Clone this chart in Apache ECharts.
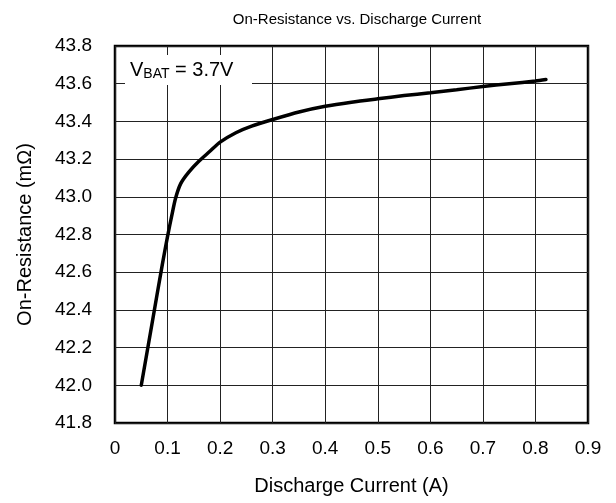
<!DOCTYPE html>
<html>
<head>
<meta charset="utf-8">
<script src="https://cdn.jsdelivr.net/npm/echarts@6/dist/echarts.min.js"></script>
<style>html,body{margin:0;padding:0;background:#fff}#c{width:616px;height:503px}</style>
</head>
<body>
<div id="c"></div>
<script>
var currentA = [0.05, 0.07, 0.09, 0.1, 0.108, 0.115, 0.125, 0.14, 0.16, 0.18, 0.2, 0.23, 0.26, 0.3, 0.35, 0.4, 0.45, 0.5, 0.55, 0.6, 0.65, 0.7, 0.75, 0.8, 0.82];
var resistance = [42.0, 42.32, 42.64, 42.79, 42.9, 42.99, 43.07, 43.13, 43.19, 43.24, 43.29, 43.34, 43.375, 43.41, 43.45, 43.48, 43.502, 43.52, 43.537, 43.552, 43.568, 43.585, 43.6, 43.614, 43.622];
var title = 'On-Resistance vs. Discharge Current';
var xName = 'Discharge Current (A)';
var yName = 'On-Resistance (mΩ)';

var chart = echarts.init(document.getElementById('c'));
var font = 'Liberation Sans, Arial, sans-serif';
chart.setOption({
  animation: false,
  backgroundColor: '#fff',
  title: {
    text: title, left: 352, top: 7, textAlign: 'center',
    textStyle: {fontFamily: font, fontSize: 15, fontWeight: 'normal', color: '#000'}
  },
  grid: {left: 115, right: 28, top: 46, bottom: 80, show: true, borderColor: '#000', borderWidth: 2.5},
  xAxis: {
    type: 'value', min: 0, max: 0.9, interval: 0.1,
    name: xName, nameLocation: 'middle', nameGap: 53,
    nameTextStyle: {fontFamily: font, fontSize: 20, color: '#000'},
    axisLine: {show: false}, axisTick: {show: false},
    axisLabel: {fontFamily: font, fontSize: 19, color: '#000', margin: 16,
      formatter: function (v) { return v === 0 ? '0' : v.toFixed(1); }},
    splitLine: {show: true, lineStyle: {color: '#222', width: 1}}
  },
  yAxis: {
    type: 'value', min: 41.8, max: 43.8, interval: 0.2,
    name: yName, nameLocation: 'middle', nameGap: 80, nameRotate: 90,
    nameTextStyle: {fontFamily: font, fontSize: 20, color: '#000'},
    axisLine: {show: false}, axisTick: {show: false},
    axisLabel: {fontFamily: font, fontSize: 19, color: '#000', margin: 23,
      formatter: function (v) { return v.toFixed(1); }},
    splitLine: {show: true, lineStyle: {color: '#222', width: 1}}
  },
  series: [{
    type: 'line',
    data: currentA.map(function (x, i) { return [x, resistance[i]]; }),
    showSymbol: false, smooth: 0.25,
    lineStyle: {color: '#000', width: 3.5, cap: 'round'}
  }],
  graphic: [{
    type: 'rect', shape: {x: 125, y: 55, width: 127, height: 30},
    style: {fill: '#fff'}, z: 10
  }, {
    type: 'text', x: 130, y: 70, z: 11,
    style: {
      text: '{v|V}{s|BAT}{v| = 3.7V}',
      verticalAlign: 'middle',
      rich: {
        v: {fontFamily: font, fontSize: 20, fill: '#000'},
        s: {fontFamily: font, fontSize: 14, fill: '#000', padding: [9, 0, 0, 0]}
      }
    }
  }]
});
</script>
</body>
</html>
